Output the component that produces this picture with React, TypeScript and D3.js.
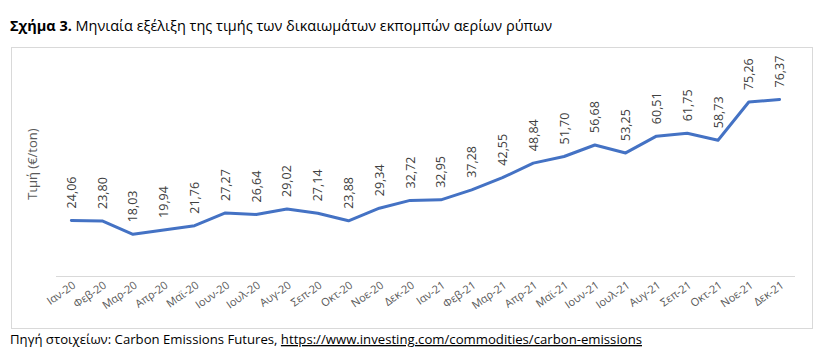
import React from 'react';
import * as d3 from 'd3';

const months = ['Ιαν-20','Φεβ-20','Μαρ-20','Απρ-20','Μαϊ-20','Ιουν-20','Ιουλ-20','Αυγ-20','Σεπ-20','Οκτ-20','Νοε-20','Δεκ-20',
  'Ιαν-21','Φεβ-21','Μαρ-21','Απρ-21','Μαϊ-21','Ιουν-21','Ιουλ-21','Αυγ-21','Σεπ-21','Οκτ-21','Νοε-21','Δεκ-21'];
const prices = [24.06,23.80,18.03,19.94,21.76,27.27,26.64,29.02,27.14,23.88,29.34,32.72,
  32.95,37.28,42.55,48.84,51.70,56.68,53.25,60.51,61.75,58.73,75.26,76.37];

const W = 832, H = 359;
const textFont = '"Open Sans", sans-serif';
const chartFont = '"Liberation Sans Narrow", "Open Sans", sans-serif';

const App = () => {
  const x = d3.scaleBand<string>().domain(months).range([56, 795]);
  const y = d3.scaleLinear().domain([0, 90]).range([276, 68]);
  const cx = (i: number) => (x(months[i]) as number) + x.bandwidth() / 2;
  const line = d3.line<number>().x((d, i) => cx(i)).y(d => y(d));
  const fmt = (v: number) => v.toFixed(2).replace('.', ',');

  return (
    <svg width={W} height={H} style={{position: 'absolute', left: 0, top: 0}}>
      <rect width={W} height={H} fill="#fff" />
      <text x={10} y={31} fontSize={14} fill="#000" fontFamily={textFont} textLength={542} lengthAdjust="spacingAndGlyphs">
        <tspan fontWeight="bold">Σχήμα 3.</tspan> Μηνιαία εξέλιξη της τιμής των δικαιωμάτων εκπομπών αερίων ρύπων
      </text>
      <rect x={11.5} y={47.5} width={801} height={281} fill="none" stroke="#d9d9d9" />
      <line x1={56} x2={795} y1={276.5} y2={276.5} stroke="#d9d9d9" />
      <g fontFamily={chartFont}>
        <text transform="translate(37,164) rotate(-90)" textAnchor="middle" fontSize={13} fill="#595959">Τιμή (€/ton)</text>
        <path d={line(prices) || ''} fill="none" stroke="#4472c4" strokeWidth={3} strokeLinejoin="round" strokeLinecap="round" />
        {prices.map((v, i) => (
          <text key={'l' + i} transform={`translate(${cx(i) + 4.5},${y(v) - 12}) rotate(-90)`} fontSize={12.5} fill="#404040">
            {fmt(v)}
          </text>
        ))}
        {months.map((m, i) => (
          <text key={'m' + i} transform={`translate(${cx(i) + 5},${287}) rotate(-35)`} textAnchor="end" fontSize={11} fill="#595959">
            {m}
          </text>
        ))}
      </g>
      <text x={10} y={344} fontSize={13} fill="#000" fontFamily={textFont} textLength={632} lengthAdjust="spacingAndGlyphs">
        Πηγή στοιχείων: Carbon Emissions Futures, <tspan textDecoration="underline">https://www.investing.com/commodities/carbon-emissions</tspan>
      </text>
    </svg>
  );
};

export default App;
